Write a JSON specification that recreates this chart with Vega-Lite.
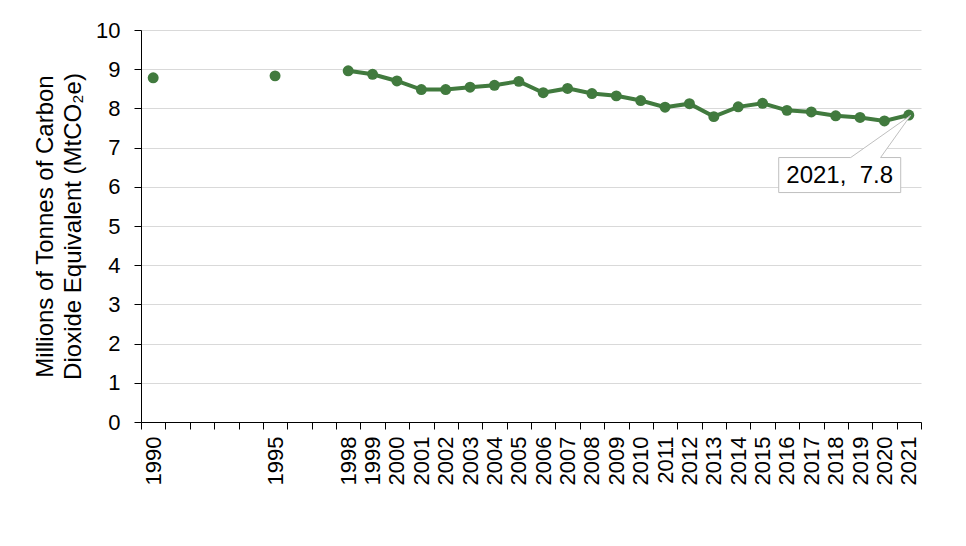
{
  "$schema": "https://vega.github.io/schema/vega-lite/v6.json",
  "autosize": "none",
  "padding": {"left": 141, "top": 30, "right": 45, "bottom": 124},
  "width": 780,
  "height": 392,
  "background": "white",
  "data": {
    "values": [
      {"year": 1990, "value": 8.78, "series": "early"},
      {"year": 1995, "value": 8.83, "series": "early"},
      {"year": 1998, "value": 8.96, "series": "main"},
      {"year": 1999, "value": 8.87, "series": "main"},
      {"year": 2000, "value": 8.70, "series": "main"},
      {"year": 2001, "value": 8.48, "series": "main"},
      {"year": 2002, "value": 8.48, "series": "main"},
      {"year": 2003, "value": 8.54, "series": "main"},
      {"year": 2004, "value": 8.59, "series": "main"},
      {"year": 2005, "value": 8.69, "series": "main"},
      {"year": 2006, "value": 8.40, "series": "main"},
      {"year": 2007, "value": 8.51, "series": "main"},
      {"year": 2008, "value": 8.38, "series": "main"},
      {"year": 2009, "value": 8.32, "series": "main"},
      {"year": 2010, "value": 8.20, "series": "main"},
      {"year": 2011, "value": 8.03, "series": "main"},
      {"year": 2012, "value": 8.12, "series": "main"},
      {"year": 2013, "value": 7.79, "series": "main"},
      {"year": 2014, "value": 8.04, "series": "main"},
      {"year": 2015, "value": 8.13, "series": "main"},
      {"year": 2016, "value": 7.95, "series": "main"},
      {"year": 2017, "value": 7.91, "series": "main"},
      {"year": 2018, "value": 7.81, "series": "main"},
      {"year": 2019, "value": 7.77, "series": "main"},
      {"year": 2020, "value": 7.68, "series": "main"},
      {"year": 2021, "value": 7.83, "series": "main"}
    ]
  },
  "encoding": {
    "x": {
      "field": "year",
      "type": "ordinal",
      "scale": {
        "domain": [1990, 1991, 1992, 1993, 1994, 1995, 1996, 1997, 1998, 1999, 2000, 2001, 2002, 2003, 2004, 2005, 2006, 2007, 2008, 2009, 2010, 2011, 2012, 2013, 2014, 2015, 2016, 2017, 2018, 2019, 2020, 2021],
        "paddingInner": 0,
        "paddingOuter": 0
      },
      "axis": {
        "title": null,
        "labelAngle": -90,
        "labelExpr": "indexof([1991,1992,1993,1994,1996,1997], datum.value) >= 0 ? '' : datum.label",
        "tickBand": "extent",
        "tickSize": 7,
        "tickColor": "#000000",
        "domainColor": "#000000",
        "labelPadding": 7,
        "labelFontSize": 22,
        "labelColor": "#000000",
        "labelFont": "Liberation Sans",
        "grid": false
      }
    },
    "y": {
      "field": "value",
      "type": "quantitative",
      "scale": {"domain": [0, 10], "nice": false},
      "axis": {
        "title": ["Millions of Tonnes of Carbon", "Dioxide Equivalent (MtCO₂e)"],
        "titleFont": "Liberation Sans",
        "titleFontSize": 24,
        "titleFontWeight": "normal",
        "titleColor": "#000000",
        "titleLineHeight": 28,
        "titlePadding": 10,
        "values": [0, 1, 2, 3, 4, 5, 6, 7, 8, 9, 10],
        "tickSize": 7,
        "tickColor": "#000000",
        "domainColor": "#000000",
        "labelPadding": 14,
        "labelFontSize": 22,
        "labelColor": "#000000",
        "labelFont": "Liberation Sans",
        "gridColor": "#d9d9d9",
        "gridWidth": 1
      }
    }
  },
  "layer": [
    {
      "transform": [{"filter": "datum.series == 'main'"}],
      "mark": {"type": "line", "color": "#417a3e", "strokeWidth": 4},
      "encoding": {}
    },
    {
      "mark": {"type": "point", "filled": true, "opacity": 1, "color": "#417a3e", "size": 120},
      "encoding": {}
    },
    {
      "data": {"values": [{"year": 2018, "value": 6.3, "label": "2021,\u00a0\u00a07.8"}]},
      "layer": [
        {
          "mark": {
            "type": "point",
            "shape": "M-0.934,-0.287L0.246,-0.287L1.23,-0.98L0.736,-0.287L1.066,-0.287L1.066,0.287L-0.934,0.287Z",
            "size": 14884,
            "filled": true,
            "fill": "white",
            "stroke": "#bfbfbf",
            "strokeWidth": 1,
            "opacity": 1
          },
          "encoding": {}
        },
        {
          "mark": {
            "type": "text",
            "font": "Liberation Sans",
            "fontSize": 24,
            "color": "#000000",
            "dx": 4,
            "dy": 1,
            "baseline": "middle",
            "align": "center"
          },
          "encoding": {"text": {"field": "label"}}
        }
      ]
    }
  ],
  "config": {
    "view": {"stroke": null}
  }
}
